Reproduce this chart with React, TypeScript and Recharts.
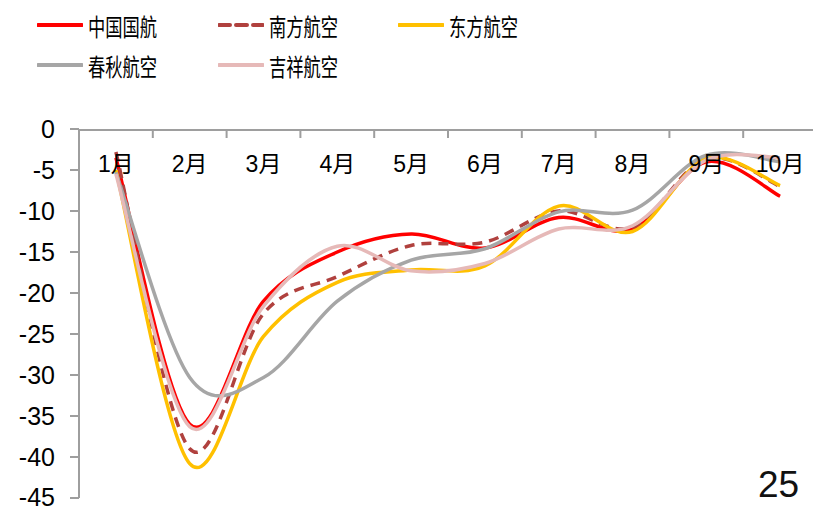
import { LineChart, Line, XAxis, YAxis } from 'recharts';

const months = ['1月', '2月', '3月', '4月', '5月', '6月', '7月', '8月', '9月', '10月'];
const airChina = [-3.5, -36.0, -21.0, -15.0, -12.8, -14.5, -10.8, -12.2, -4.0, -8.2];
const chinaSouthern = [-2.8, -39.0, -22.5, -18.0, -14.2, -13.8, -10.0, -12.0, -3.6, -7.0];
const chinaEastern = [-5.0, -40.8, -25.3, -18.7, -17.2, -16.7, -9.4, -12.5, -3.6, -6.9];
const springAir = [-5.3, -30.3, -30.3, -21.0, -16.0, -14.6, -10.1, -9.9, -3.2, -4.0];
const juneyao = [-5.5, -36.3, -21.6, -14.3, -17.3, -16.4, -12.2, -11.8, -3.8, -3.5];
const yTicks = [0, -5, -10, -15, -20, -25, -30, -35, -40, -45];

const series = [
  { key: 'airChina', name: '中国国航', values: airChina, color: '#FF0000', dash: undefined as string | undefined },
  { key: 'chinaSouthern', name: '南方航空', values: chinaSouthern, color: '#B0413E', dash: '10 7' },
  { key: 'chinaEastern', name: '东方航空', values: chinaEastern, color: '#FFC000', dash: undefined },
  { key: 'springAir', name: '春秋航空', values: springAir, color: '#A6A6A6', dash: undefined },
  { key: 'juneyao', name: '吉祥航空', values: juneyao, color: '#E6B9B8', dash: undefined },
];

const rows = months.map((m, i) => {
  const row: Record<string, number | string> = { idx: i + 1, month: m };
  series.forEach((s) => { row[s.key] = s.values[i]; });
  return row;
});

const edgeTicks = months.map((_, i) => i + 0.5);
const axisGray = '#9E9E9E';
const cjk = '"Liberation Sans", Arial, "Noto Sans CJK SC", sans-serif';

// Excel-style smoothed line (Catmull-Rom through the points)
function excelSmooth(context: any) {
  let pts: [number, number][] = [];
  return {
    areaStart() {},
    areaEnd() {},
    lineStart() { pts = []; },
    point(x: number, y: number) { pts.push([+x, +y]); },
    lineEnd() {
      if (!pts.length) return;
      context.moveTo(pts[0][0], pts[0][1]);
      for (let i = 0; i < pts.length - 1; i++) {
        const p0 = pts[i - 1] || pts[i];
        const p1 = pts[i];
        const p2 = pts[i + 1];
        const p3 = pts[i + 2] || p2;
        context.bezierCurveTo(
          p1[0] + (p2[0] - p0[0]) / 6, p1[1] + (p2[1] - p0[1]) / 6,
          p2[0] - (p3[0] - p1[0]) / 6, p2[1] - (p3[1] - p1[1]) / 6,
          p2[0], p2[1],
        );
      }
    },
  };
}

const legendPos = [
  { left: 37, top: 25 }, { left: 218, top: 25 }, { left: 398, top: 25 },
  { left: 37, top: 65 }, { left: 218, top: 65 },
];

function MonthTick(props: any) {
  const { x, y, payload } = props;
  return (
    <text x={x} y={y} textAnchor="middle" dominantBaseline="central" fontSize={23} fontFamily={cjk} fill="#000">
      {months[payload.value - 1]}
    </text>
  );
}

export default function App() {
  return (
    <div style={{ position: 'absolute', left: 0, top: 0, width: 813, height: 511, overflow: 'hidden', background: '#fff' }}>
      {series.map((s, i) => (
        <div key={s.key} style={{ position: 'absolute', left: legendPos[i].left, top: legendPos[i].top - 15, height: 30, display: 'flex', alignItems: 'center' }}>
          <svg width={46} height={8}>
            <line x1={1} y1={4} x2={45} y2={4} stroke={s.color} strokeWidth={4} strokeDasharray={s.dash ? '11 6' : undefined} strokeLinecap="round" />
          </svg>
          <span style={{ marginLeft: 5, fontFamily: '"Noto Sans CJK SC", sans-serif', fontSize: 24, display: 'inline-block', transform: 'scaleX(0.72)', transformOrigin: 'left center', whiteSpace: 'nowrap' }}>
            {s.name}
          </span>
        </div>
      ))}
      <LineChart width={817} height={511} data={rows} margin={{ top: 129, right: 0, left: 0, bottom: 13 }}>
        <XAxis
          xAxisId="edge"
          dataKey="idx"
          type="number"
          domain={[0.5, 10.5]}
          allowDataOverflow
          ticks={edgeTicks}
          orientation="top"
          mirror
          height={1}
          tickSize={8}
          tickFormatter={() => ''}
          axisLine={{ stroke: axisGray, strokeWidth: 2 }}
          tickLine={{ stroke: axisGray, strokeWidth: 2 }}
        />
        <XAxis
          dataKey="idx"
          type="number"
          domain={[0.5, 10.5]}
          allowDataOverflow
          ticks={months.map((_, i) => i + 1)}
          orientation="top"
          mirror
          height={1}
          tickSize={0}
          tickMargin={35}
          axisLine={false}
          tickLine={false}
          tick={MonthTick}
        />
        <YAxis
          type="number"
          domain={[-45, 0]}
          ticks={yTicks}
          allowDataOverflow
          width={79}
          tickSize={9}
          tickMargin={15}
          axisLine={{ stroke: axisGray, strokeWidth: 2 }}
          tickLine={{ stroke: axisGray, strokeWidth: 2 }}
          tick={{ fontSize: 25, fill: '#000', fontFamily: '"Liberation Sans", Arial, sans-serif' }}
        />
        {series.map((s) => (
          <Line
            key={s.key}
            dataKey={s.key}
            name={s.name}
            type={excelSmooth as any}
            stroke={s.color}
            strokeWidth={3.5}
            strokeDasharray={s.dash}
            dot={false}
            activeDot={false}
            isAnimationActive={false}
          />
        ))}
      </LineChart>
      <div style={{ position: 'absolute', left: 758, top: 463, fontFamily: '"Liberation Sans", Arial, sans-serif', fontSize: 37, lineHeight: '44px', color: '#111' }}>
        25
      </div>
    </div>
  );
}
